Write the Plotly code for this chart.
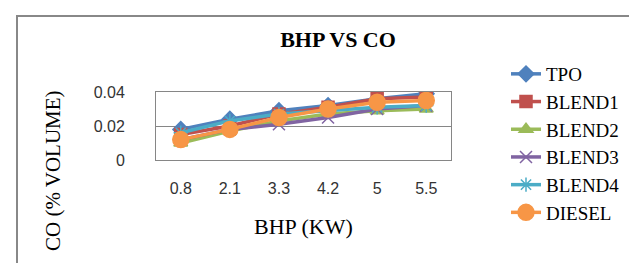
import plotly.graph_objects as go

categories = ["0.8", "2.1", "3.3", "4.2", "5", "5.5"]
tpo    = [0.018, 0.024, 0.029, 0.032, 0.036, 0.039]
blend1 = [0.015, 0.020, 0.027, 0.031, 0.036, 0.037]
blend2 = [0.010, 0.017, 0.023, 0.027, 0.029, 0.030]
blend3 = [0.012, 0.018, 0.021, 0.025, 0.030, 0.032]
blend4 = [0.016, 0.023, 0.027, 0.029, 0.031, 0.032]
diesel = [0.012, 0.018, 0.025, 0.030, 0.034, 0.035]

series = [
    ("TPO", tpo, "#4F81BD", "diamond", 12),
    ("BLEND1", blend1, "#C0504D", "square", 12),
    ("BLEND2", blend2, "#9BBB59", "triangle-up", 12),
    ("BLEND3", blend3, "#8064A2", "x-thin-open", 12),
    ("BLEND4", blend4, "#4BACC6", "asterisk-open", 12),
    ("DIESEL", diesel, "#F79646", "circle", 16),
]

W, H = 637, 263
L, R, T, B = 148, 443, 84, 152
SERIF = "Liberation Serif, Tinos, DejaVu Serif, Times New Roman, Times, serif"
SANS = "Liberation Sans, Arial, sans-serif"

def px(x):
    return (x - L) / (R - L)

def py(y):
    return (B - y) / (B - T)

fig = go.Figure()
for i, (name, vals, col, sym, sz) in enumerate(series):
    fig.add_trace(go.Scatter(
        x=categories, y=vals, name=name, mode="lines+markers",
        line=dict(color=col, width=3.5),
        marker=dict(symbol=sym, size=sz, color=col,
                    line=dict(color=col, width=1.5)),
    ))

fig.update_layout(
    width=W, height=H,
    margin=dict(l=L, r=W - R, t=T, b=H - B),
    paper_bgcolor="white", plot_bgcolor="white",
    font=dict(family=SERIF, size=20, color="black"),
    title=dict(text="<b>BHP VS CO</b>", x=330 / W, xanchor="center",
               y=1 - 31 / H, yanchor="middle",
               font=dict(family=SERIF, size=22)),
    showlegend=True,
    legend=dict(x=px(498), y=py(47), xanchor="left", yanchor="top",
                maxheight=400,
                font=dict(family=SERIF, size=19), bgcolor="rgba(0,0,0,0)"),
    xaxis=dict(type="category", showgrid=False, showline=True,
               linecolor="#868686", linewidth=1, mirror=True,
               ticks="", ticklabelstandoff=14,
               tickfont=dict(family=SANS, size=16, color="#333")),
    yaxis=dict(range=[0, 0.04], tickvals=[0, 0.02, 0.04],
               ticktext=["0", "0.02", "0.04"], showgrid=True,
               gridcolor="#868686", gridwidth=1, showline=True,
               linecolor="#868686", linewidth=1, mirror=True,
               zeroline=False, ticks="", ticklabelstandoff=27,
               tickfont=dict(family=SANS, size=16, color="#333")),
    annotations=[
        dict(text="BHP (KW)", xref="paper", yref="paper",
             x=px(295), y=py(218), xanchor="center", yanchor="middle",
             showarrow=False, font=dict(family=SERIF, size=22)),
        dict(text="CO (% VOLUME)", xref="paper", yref="paper",
             x=px(45), y=py(163), xanchor="center", yanchor="middle",
             showarrow=False, textangle=-90,
             font=dict(family=SERIF, size=21)),
    ],
    shapes=[dict(type="rect", xref="paper", yref="paper",
                 x0=px(9), y0=py(320), x1=px(720), y1=py(8),
                 line=dict(color="#888888", width=2))],
)

fig.write_html("out.html")
